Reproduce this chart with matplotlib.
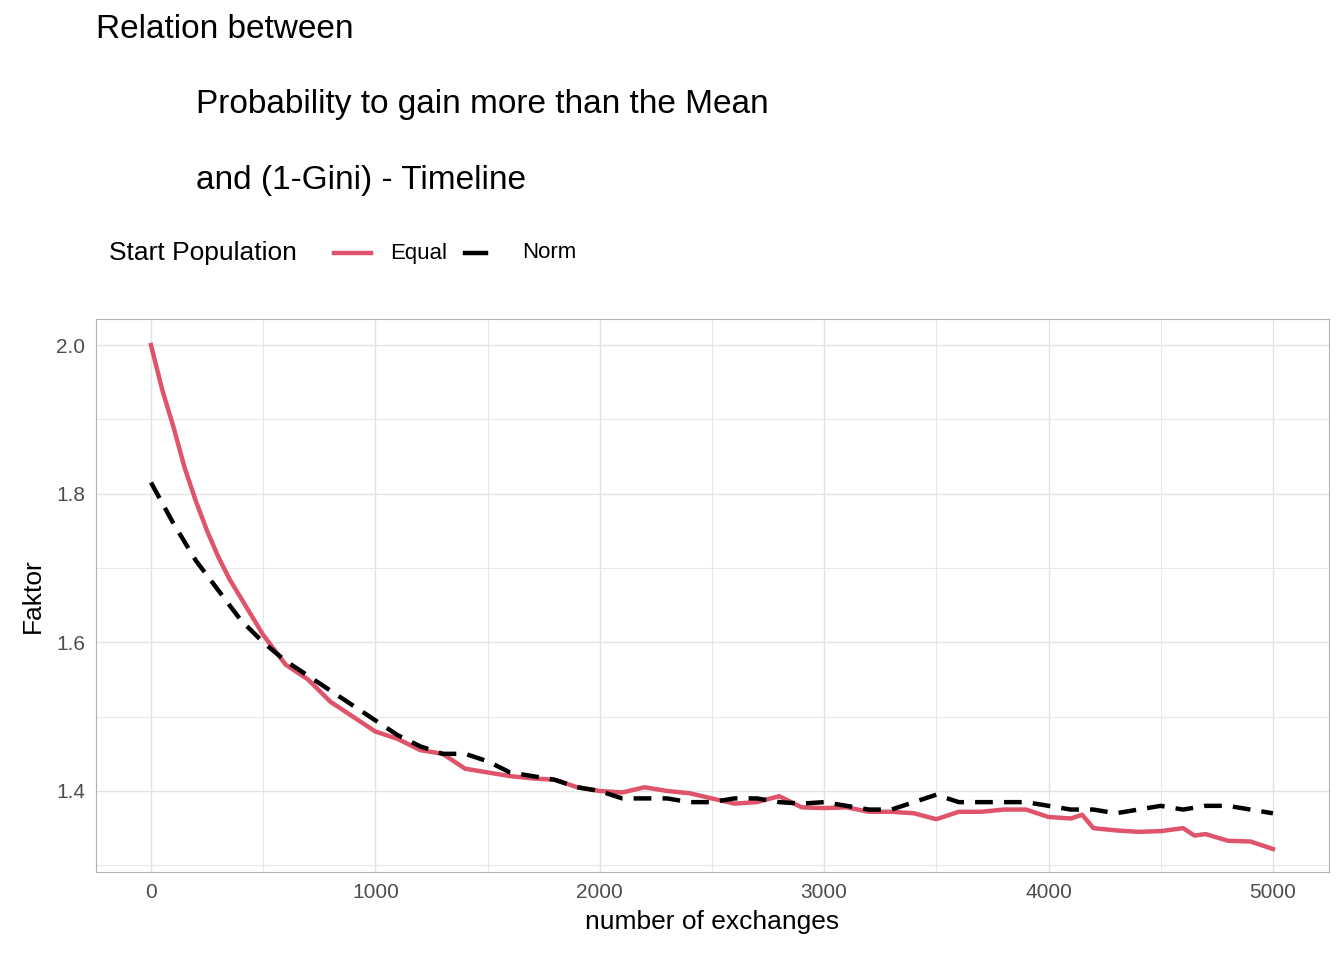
import matplotlib.pyplot as plt
from matplotlib.lines import Line2D

plt.rcParams['font.family'] = ['Liberation Sans', 'DejaVu Sans']

# Data
x_equal = [0, 50, 100, 150, 200, 250, 300, 350, 400, 450, 500, 550, 600, 700, 800, 900,
           1000, 1100, 1200, 1300, 1400, 1500, 1600, 1700, 1800, 1900, 2000, 2100, 2200,
           2300, 2400, 2500, 2600, 2700, 2800, 2900, 3000, 3100, 3200, 3300, 3400, 3500,
           3600, 3700, 3800, 3900, 4000, 4100, 4150, 4200, 4300, 4400, 4500, 4600, 4650,
           4700, 4800, 4900, 5000]
y_equal = [2.0, 1.94, 1.89, 1.835, 1.79, 1.75, 1.715, 1.685, 1.66, 1.635, 1.61, 1.59,
           1.57, 1.55, 1.52, 1.50, 1.48, 1.47, 1.455, 1.45, 1.43, 1.425, 1.42, 1.417,
           1.415, 1.405, 1.40, 1.398, 1.405, 1.40, 1.397, 1.39, 1.383, 1.385, 1.393,
           1.378, 1.377, 1.378, 1.372, 1.372, 1.37, 1.362, 1.372, 1.372, 1.375, 1.375,
           1.365, 1.363, 1.368, 1.35, 1.347, 1.345, 1.346, 1.35, 1.34, 1.342, 1.333,
           1.332, 1.322]

x_norm = list(range(0, 5001, 100))
y_norm = [1.815, 1.76, 1.71, 1.67, 1.63, 1.60, 1.575, 1.555, 1.535, 1.515, 1.495, 1.475,
          1.46, 1.45, 1.45, 1.44, 1.425, 1.42, 1.415, 1.405, 1.40, 1.39, 1.39, 1.39, 1.385,
          1.385, 1.39, 1.39, 1.385, 1.383, 1.385, 1.38, 1.375, 1.375, 1.385, 1.395, 1.385,
          1.385, 1.385, 1.385, 1.38, 1.375, 1.375, 1.37, 1.375, 1.38, 1.375, 1.38, 1.38,
          1.375, 1.37]

red = '#DF536B'

fig = plt.figure(figsize=(13.44, 9.6), dpi=100)
ax = fig.add_axes([96/1344, 1 - 872/960, (1329-96)/1344, (872-319)/960])

ax.plot(x_equal, y_equal, color=red, lw=3.2)
ax.plot(x_norm, y_norm, color='black', lw=3.2, dashes=(4, 2.5))

ax.set_xlim(-245, 5250)
ax.set_ylim(1.291, 2.035)
ax.set_xticks([0, 1000, 2000, 3000, 4000, 5000])
ax.set_yticks([1.4, 1.6, 1.8, 2.0])
ax.set_yticklabels(['1.4', '1.6', '1.8', '2.0'])
ax.set_xticks([500, 1500, 2500, 3500, 4500], minor=True)
ax.set_yticks([1.3, 1.5, 1.7, 1.9], minor=True)
ax.grid(True, which='major', color='#E3E3E3', lw=1)
ax.grid(True, which='minor', color='#E8E8E8', lw=0.8)
ax.set_axisbelow(True)
for s in ax.spines.values():
    s.set_color('#B3B3B3')
ax.tick_params(which='both', length=0, labelsize=15, labelcolor='#4D4D4D', pad=8)
ax.set_xlabel('number of exchanges', fontsize=19, labelpad=6)
ax.set_ylabel('Faktor', fontsize=19, labelpad=8)

fig.text(96/1344, 1 - 30/960, 'Relation between', fontsize=24, va='center')
fig.text(196/1344, 1 - 105/960, 'Probability to gain more than the Mean', fontsize=24, va='center')
fig.text(196/1344, 1 - 181/960, 'and (1-Gini) - Timeline', fontsize=24, va='center')

# legend drawn in figure coordinates
ly = 1 - 253/960
fig.text(109/1344, ly, 'Start Population', fontsize=19, va='center')
fig.add_artist(Line2D([334/1344, 371/1344], [ly, ly], color=red, lw=3.2))
fig.text(390/1344, ly, 'Equal', fontsize=16, va='center')
fig.add_artist(Line2D([465/1344, 486/1344], [ly, ly], color='black', lw=3.2))
fig.text(522/1344, ly, 'Norm', fontsize=16, va='center')

fig.savefig('out.png', dpi=100)
